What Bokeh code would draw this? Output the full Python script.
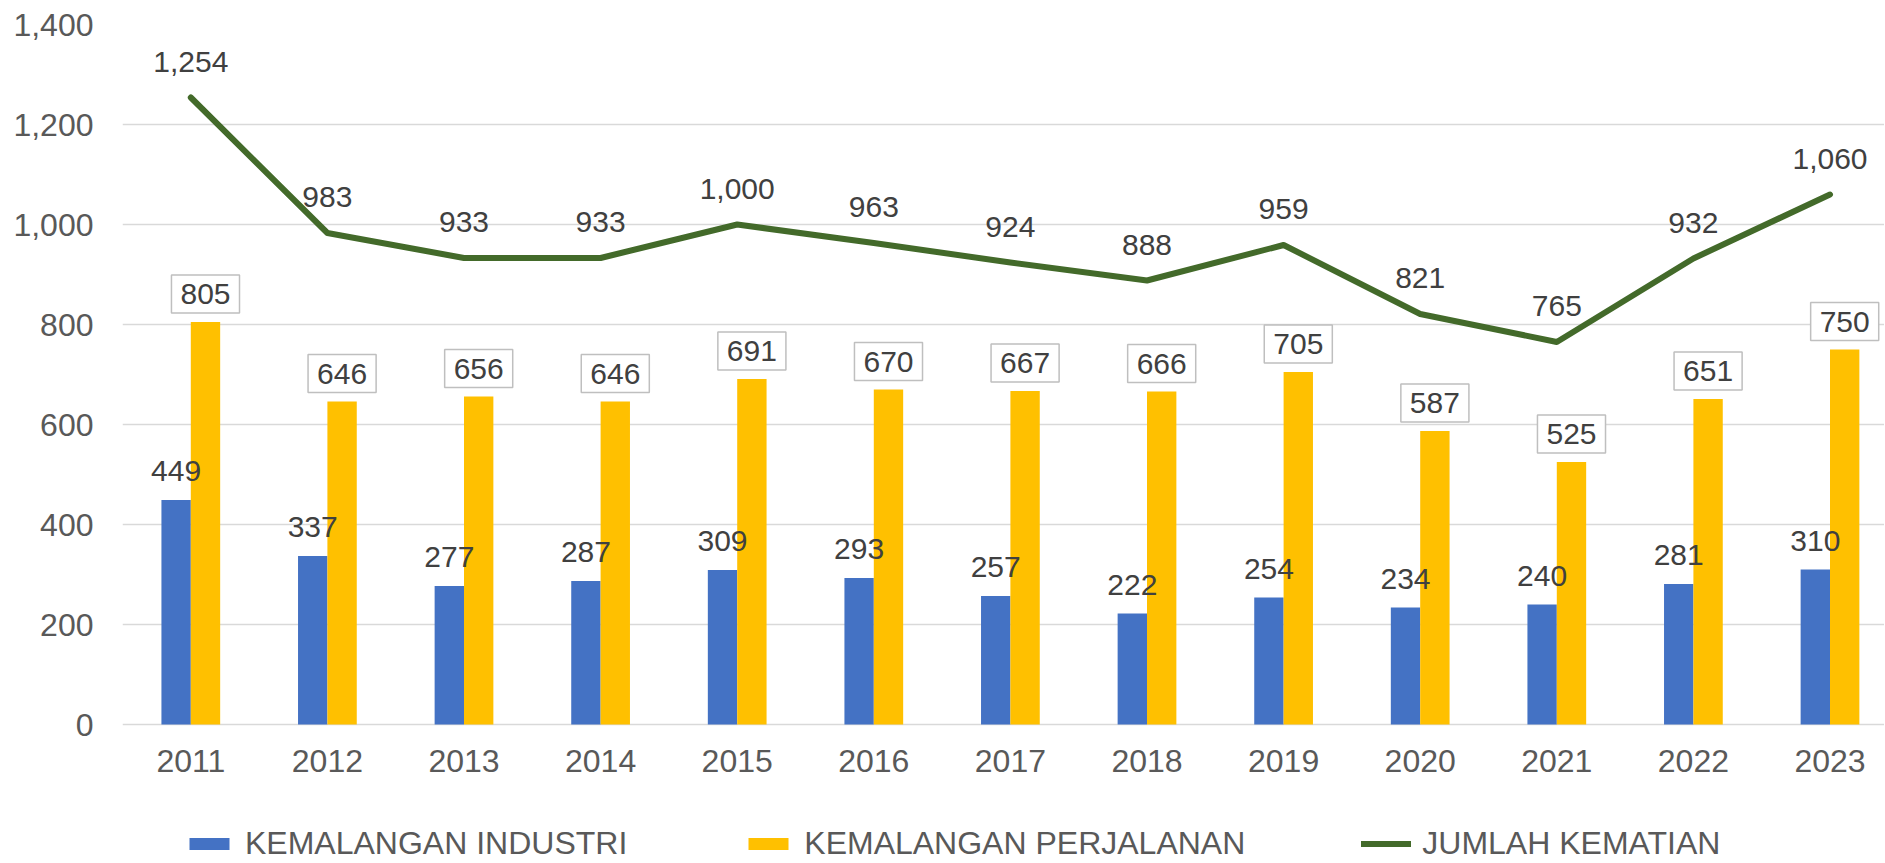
from bokeh.plotting import figure
from bokeh.models import (Range1d, FixedTicker, NumeralTickFormatter, ColumnDataSource,
                          Legend, LegendItem)
from bokeh.core.properties import value
from bokeh.embed import file_html
from bokeh.resources import INLINE

# ---- data ----
years = ["2011", "2012", "2013", "2014", "2015", "2016", "2017",
         "2018", "2019", "2020", "2021", "2022", "2023"]
industri = [449, 337, 277, 287, 309, 293, 257, 222, 254, 234, 240, 281, 310]
perjalanan = [805, 646, 656, 646, 691, 670, 667, 666, 705, 587, 525, 651, 750]
kematian = [1254, 983, 933, 933, 1000, 963, 924, 888, 959, 821, 765, 932, 1060]
series_names = ["KEMALANGAN INDUSTRI", "KEMALANGAN PERJALANAN", "JUMLAH KEMATIAN"]
y_ticks = [0, 200, 400, 600, 800, 1000, 1200, 1400]

FONT = "Liberation Sans"
BLUE = "#4472c4"
YELLOW = "#ffc000"
GREEN = "#436a2a"
BAR_W = 0.215
SPACING_PX = 136.6
UNITS_PER_PX = 2.0
W, H = 1884, 862
LEFT, TOP = 122, 24

idx = list(range(len(years)))
src = ColumnDataSource(dict(
    x=idx,
    xb=[i - BAR_W / 2 for i in idx],
    xy=[i + BAR_W / 2 for i in idx],
    ind=industri, per=perjalanan, tot=kematian,
    ind_lbl=[f"{v:,}" for v in industri],
    per_lbl=[f"{v:,}" for v in perjalanan],
    tot_lbl=[f"{v:,}" for v in kematian],
))

frame_w = W - LEFT
frame_h = H - TOP
y_top = y_ticks[-1]
p = figure(width=W, height=H, output_backend="svg", toolbar_location=None,
           x_range=Range1d(-0.5, -0.5 + frame_w / SPACING_PX),
           y_range=Range1d(y_top - frame_h * UNITS_PER_PX, y_top),
           min_border_left=LEFT, min_border_right=0, min_border_top=TOP,
           min_border_bottom=0)
p.outline_line_color = None
p.background_fill_color = "white"
p.border_fill_color = "white"

p.xgrid.visible = False
p.ygrid.grid_line_color = "#d9d9d9"
p.ygrid.grid_line_width = 1.5

p.xaxis.ticker = FixedTicker(ticks=idx)
p.xaxis.major_label_overrides = {i: y for i, y in zip(idx, years)}
p.xaxis.fixed_location = 0
p.yaxis.ticker = FixedTicker(ticks=y_ticks)
p.yaxis.formatter = NumeralTickFormatter(format="0,0")
for ax in (p.xaxis, p.yaxis):
    ax.axis_line_color = None
    ax.major_tick_line_color = None
    ax.minor_tick_line_color = None
    ax.major_tick_out = 0
    ax.major_label_text_font = FONT
    ax.major_label_text_font_size = "32px"
    ax.major_label_text_color = "#595959"
p.yaxis.major_label_standoff = 29
p.xaxis.major_label_standoff = 25

r1 = p.vbar(x="xb", top="ind", width=BAR_W, source=src,
            fill_color=BLUE, line_color=None)
r2 = p.vbar(x="xy", top="per", width=BAR_W, source=src,
            fill_color=YELLOW, line_color=None)
r3 = p.line(x="x", y="tot", source=src, line_color=GREEN, line_width=6,
            line_join="round", line_cap="round")

common = dict(text_font=value(FONT), text_font_size="30px", text_color="#404040",
              text_align="center", text_baseline="middle", source=src)
p.text(x="x", y="tot", text="tot_lbl", y_offset=-36, **common)
p.text(x="xb", y="ind", text="ind_lbl", y_offset=-29, **common)
p.text(x="xy", y="per", text="per_lbl", y_offset=-28,
       background_fill_color="white", border_line_color="#bfbfbf",
       border_line_width=1.5, padding=dict(x=9, y=9), **common)

legend = Legend(
    items=[LegendItem(label=series_names[0], renderers=[r1]),
           LegendItem(label=series_names[1], renderers=[r2]),
           LegendItem(label=series_names[2], renderers=[r3])],
    location=(62, 0), orientation="horizontal",
    glyph_width=50, glyph_height=15, label_standoff=11, spacing=116,
    padding=0, margin=0, border_line_color=None, background_fill_alpha=0,
    label_text_font=FONT, label_text_font_size="32px", label_text_color="#595959",
)
p.add_layout(legend)

open("out.html", "w").write(file_html(p, INLINE))
